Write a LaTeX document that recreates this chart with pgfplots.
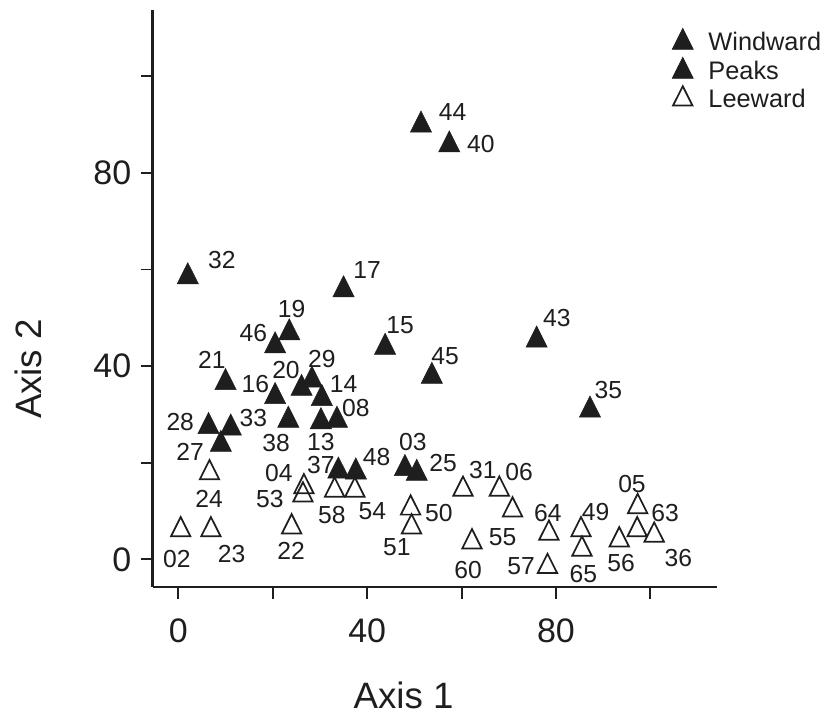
\documentclass[border=0pt]{standalone}
\usepackage{pgfplots}
\pgfplotsset{compat=1.18}
\usepackage{fontspec}
\setmainfont{Liberation Sans}
\definecolor{ink}{HTML}{1E1E1E}
\tikzset{lbl/.style={font=\fontsize{18.5}{21}\selectfont, text=ink, inner sep=0pt, anchor=center}}
\begin{document}
\begin{tikzpicture}
\begin{axis}[
  x=3.54pt, y=3.6225pt,
  xmin=-5.47, xmax=114.07, ymin=-5.67, ymax=113.7,
  axis lines=left,
  axis line style={-, line width=1.6pt, ink},
  xtick={0,20,40,60,80,100}, xticklabels={0,,40,,80,},
  ytick={0,20,40,60,80,100}, yticklabels={0,,40,,80,},
  tick align=outside, major tick length=9pt,
  tick style={line width=1.4pt, ink},
  ticklabel style={font=\fontsize{25.5}{30}\selectfont, text=ink},
  xticklabel style={anchor=north, inner sep=0pt, yshift=-15pt},
  yticklabel style={anchor=east, inner sep=0pt, xshift=-6.75pt},
  /pgf/number format/assume math mode=true,
  xlabel={Axis 1}, ylabel={Axis 2},
  label style={font=\fontsize{27.5}{32}\selectfont, text=ink},
  xlabel style={at={(axis description cs:0.4448,-0.1887)}, anchor=center},
  ylabel style={at={(axis description cs:-0.2203,0.3776)}, anchor=center},
  clip=false,
  legend style={at={(axis cs:104.55,110.0)}, anchor=north west, draw=none, fill=none,
    font=\fontsize{19}{22.5}\selectfont, text=ink, inner sep=0pt,
    row sep=1.5pt},
  legend cell align=left,
  legend image code/.code={\draw[#1] plot coordinates {(0.3cm,0cm)}; \path (0.90cm,0cm);},
]
% Windward / Peaks (filled)
\addplot[only marks, mark=triangle*, mark size=9.2pt,
  mark options={yscale=1.15, fill=ink, draw=ink, line width=0.4pt}] coordinates {
(2.0,58.5) (35.0,55.8) (51.4,89.9) (57.4,85.8) (23.5,46.9) (20.5,44.2)
(43.8,43.9) (75.9,45.4) (53.7,37.9) (10.0,36.6) (28.3,37.1) (26.1,35.4)
(30.4,33.3) (20.5,33.7) (33.6,28.8) (30.2,28.5) (23.3,28.8) (11.1,27.2)
(6.4,27.5) (9.0,23.8) (33.9,18.3) (37.6,18.1) (48.0,18.8) (50.5,17.8)
(87.2,30.9)
};
\addlegendentry{Windward}
\addlegendimage{only marks, mark=triangle*, mark size=9.2pt,
  mark options={yscale=1.15, fill=ink, draw=ink, line width=0.4pt}}
\addlegendentry{Peaks}
% Leeward (open)
\addplot[only marks, mark=triangle, mark size=8.4pt,
  mark options={yscale=1.15, draw=ink, line width=1.3pt}] coordinates {
(6.6,17.9) (26.6,15.0) (26.4,13.3) (33.1,14.3) (37.4,14.3)
(0.5,6.1) (6.9,6.1) (24.0,6.7) (49.2,10.6) (49.4,6.7)
(60.3,14.5) (68.0,14.5) (70.8,10.2) (62.2,3.6) (78.5,5.4)
(78.2,-1.5) (85.3,6.1) (85.5,2.1) (93.4,4.0) (97.3,10.9)
(97.2,6.1) (100.8,5.0)
};
\addlegendentry{Leeward}
% point labels
\node[lbl] at (axis cs:9.2,62.0) {32};
\node[lbl] at (axis cs:40.0,59.8) {17};
\node[lbl] at (axis cs:58.1,92.7) {44};
\node[lbl] at (axis cs:64.1,86.0) {40};
\node[lbl] at (axis cs:80.2,49.9) {43};
\node[lbl] at (axis cs:56.5,42.1) {45};
\node[lbl] at (axis cs:47.0,48.5) {15};
\node[lbl] at (axis cs:24.0,51.8) {19};
\node[lbl] at (axis cs:15.9,46.8) {46};
\node[lbl] at (axis cs:7.1,41.3) {21};
\node[lbl] at (axis cs:30.4,41.4) {29};
\node[lbl] at (axis cs:22.8,39.3) {20};
\node[lbl] at (axis cs:35.0,36.3) {14};
\node[lbl] at (axis cs:16.3,36.3) {16};
\node[lbl] at (axis cs:37.6,31.4) {08};
\node[lbl] at (axis cs:15.9,29.2) {33};
\node[lbl] at (axis cs:0.4,28.5) {28};
\node[lbl] at (axis cs:20.7,24.1) {38};
\node[lbl] at (axis cs:30.2,24.3) {13};
\node[lbl] at (axis cs:2.5,22.3) {27};
\node[lbl] at (axis cs:49.7,24.3) {03};
\node[lbl] at (axis cs:42.0,21.2) {48};
\node[lbl] at (axis cs:30.2,19.5) {37};
\node[lbl] at (axis cs:21.3,17.9) {04};
\node[lbl] at (axis cs:6.5,12.6) {24};
\node[lbl] at (axis cs:19.4,12.6) {53};
\node[lbl] at (axis cs:32.5,9.2) {58};
\node[lbl] at (axis cs:41.1,10.0) {54};
\node[lbl] at (axis cs:46.3,2.6) {51};
\node[lbl] at (axis cs:-0.3,0.0) {02};
\node[lbl] at (axis cs:11.3,1.1) {23};
\node[lbl] at (axis cs:23.9,1.8) {22};
\node[lbl] at (axis cs:56.1,20.0) {25};
\node[lbl] at (axis cs:64.5,18.6) {31};
\node[lbl] at (axis cs:72.2,18.1) {06};
\node[lbl] at (axis cs:55.2,9.6) {50};
\node[lbl] at (axis cs:78.3,9.6) {64};
\node[lbl] at (axis cs:88.4,9.9) {49};
\node[lbl] at (axis cs:96.1,15.7) {05};
\node[lbl] at (axis cs:103.1,9.5) {63};
\node[lbl] at (axis cs:68.7,4.7) {55};
\node[lbl] at (axis cs:61.4,-2.2) {60};
\node[lbl] at (axis cs:72.6,-1.5) {57};
\node[lbl] at (axis cs:85.8,-3.0) {65};
\node[lbl] at (axis cs:93.8,-0.8) {56};
\node[lbl] at (axis cs:105.9,0.2) {36};
\node[lbl] at (axis cs:91.1,35.1) {35};
\coordinate (bbbl) at (axis cs:-37.78,-32.65);
\coordinate (bbtr) at (axis cs:137.2,115.8);
\end{axis}
\pgfresetboundingbox
\useasboundingbox (bbbl) rectangle (bbtr);
\end{tikzpicture}
\end{document}
